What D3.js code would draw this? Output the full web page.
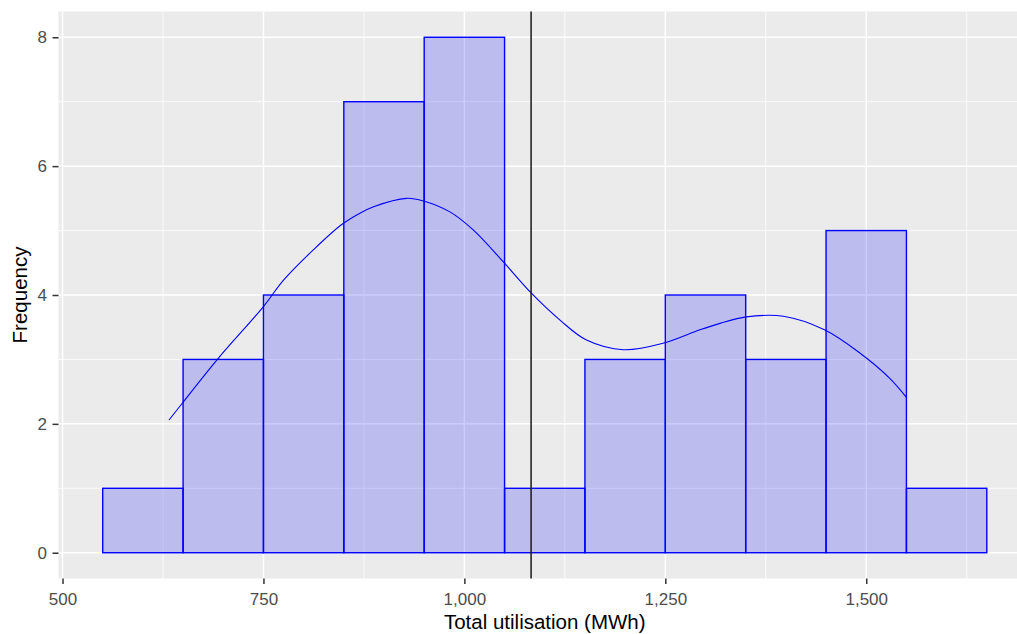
<!DOCTYPE html>
<html>
<head>
<meta charset="utf-8">
<script src="https://cdn.jsdelivr.net/npm/d3@7"></script>
<style>
  body { margin: 0; background: #fff; }
  svg { display: block; font-family: "Liberation Sans", Arial, sans-serif; }
</style>
</head>
<body>
<div id="chart"></div>
<script>
// histogram bins (binwidth 100)
const binStarts = [550, 650, 750, 850, 950, 1050, 1150, 1250, 1350, 1450, 1550];
const binCounts = [1, 3, 4, 7, 8, 1, 3, 4, 3, 5, 1];
const binWidth = 100;

// density curve, scaled to counts
const densX = [632.5, 649, 694, 750, 775, 812, 847, 870, 887, 928, 949, 982, 1011, 1048, 1084, 1119, 1152, 1198, 1247, 1293, 1318, 1351, 1397, 1448, 1492, 1529, 1550];
const densY = [2.06, 2.32, 3.02, 3.82, 4.23, 4.70, 5.09, 5.27, 5.37, 5.50, 5.46, 5.29, 5.01, 4.52, 4.02, 3.61, 3.30, 3.15, 3.25, 3.46, 3.56, 3.66, 3.67, 3.46, 3.10, 2.71, 2.41];

const meanValue = 1083;

const xMajor = [500, 750, 1000, 1250, 1500];
const xMinor = [625, 875, 1125, 1375, 1625];
const yMajor = [0, 2, 4, 6, 8];
const yMinor = [1, 3, 5, 7];

const W = 1017, H = 634;
const panel = { left: 58.5, right: 1031, top: 11.5, bottom: 578.5 };

const svg = d3.select("#chart").append("svg")
  .attr("width", W).attr("height", H);

const x = d3.scaleLinear().domain([495, 1705]).range([panel.left, panel.right]);
const y = d3.scaleLinear().domain([-0.4, 8.4]).range([panel.bottom, panel.top]);

// panel background
svg.append("rect")
  .attr("x", panel.left).attr("y", panel.top)
  .attr("width", panel.right - panel.left).attr("height", panel.bottom - panel.top)
  .attr("fill", "#EBEBEB");

const grid = svg.append("g");
grid.selectAll(".xmin").data(xMinor).join("line")
  .attr("x1", d => x(d)).attr("x2", d => x(d))
  .attr("y1", panel.top).attr("y2", panel.bottom)
  .attr("stroke", "#fff").attr("stroke-width", 0.8);
grid.selectAll(".ymin").data(yMinor).join("line")
  .attr("y1", d => y(d)).attr("y2", d => y(d))
  .attr("x1", panel.left).attr("x2", panel.right)
  .attr("stroke", "#fff").attr("stroke-width", 0.8);
grid.selectAll(".xmaj").data(xMajor).join("line")
  .attr("x1", d => x(d)).attr("x2", d => x(d))
  .attr("y1", panel.top).attr("y2", panel.bottom)
  .attr("stroke", "#fff").attr("stroke-width", 1.5);
grid.selectAll(".ymaj").data(yMajor).join("line")
  .attr("y1", d => y(d)).attr("y2", d => y(d))
  .attr("x1", panel.left).attr("x2", panel.right)
  .attr("stroke", "#fff").attr("stroke-width", 1.5);

// bars
svg.append("g").selectAll("rect")
  .data(binStarts.map((s, i) => ({ s, c: binCounts[i] })))
  .join("rect")
  .attr("x", d => x(d.s))
  .attr("width", d => x(d.s + binWidth) - x(d.s))
  .attr("y", d => y(d.c))
  .attr("height", d => y(0) - y(d.c))
  .attr("fill", "rgba(0,0,255,0.2)")
  .attr("stroke", "#0000FF")
  .attr("stroke-width", 1.4);

// density line
const line = d3.line()
  .x(d => x(d[0])).y(d => y(d[1]))
  .curve(d3.curveCatmullRom.alpha(0.5));
svg.append("path")
  .datum(densX.map((v, i) => [v, densY[i]]))
  .attr("d", line)
  .attr("fill", "none")
  .attr("stroke", "#0000FF")
  .attr("stroke-width", 1.1);

// mean line
svg.append("line")
  .attr("x1", x(meanValue)).attr("x2", x(meanValue))
  .attr("y1", panel.top).attr("y2", panel.bottom)
  .attr("stroke", "#1a1a1a").attr("stroke-width", 1.5);

// axes
const xAxis = d3.axisBottom(x).tickValues(xMajor)
  .tickSize(5.5).tickPadding(9)
  .tickFormat(d3.format(","));
svg.append("g")
  .attr("transform", `translate(0,${panel.bottom})`)
  .call(xAxis)
  .call(g => g.select(".domain").remove())
  .call(g => g.selectAll(".tick line").attr("stroke", "#333").attr("stroke-width", 1.5))
  .call(g => g.selectAll(".tick text").attr("fill", "#4D4D4D").attr("font-size", 17));

const yAxis = d3.axisLeft(y).tickValues(yMajor)
  .tickSize(6).tickPadding(5.5);
svg.append("g")
  .attr("transform", `translate(${panel.left},0)`)
  .call(yAxis)
  .call(g => g.select(".domain").remove())
  .call(g => g.selectAll(".tick line").attr("stroke", "#333").attr("stroke-width", 1.5))
  .call(g => g.selectAll(".tick text").attr("fill", "#4D4D4D").attr("font-size", 17));

svg.selectAll(".tick text").attr("font-family", "Liberation Sans, Arial, sans-serif");

// titles
svg.append("text")
  .attr("x", (panel.left + panel.right) / 2)
  .attr("y", 629)
  .attr("text-anchor", "middle")
  .attr("font-size", 20.5)
  .attr("fill", "#000")
  .text("Total utilisation (MWh)");

svg.append("text")
  .attr("transform", `translate(26.5,${(panel.top + panel.bottom) / 2}) rotate(-90)`)
  .attr("text-anchor", "middle")
  .attr("font-size", 20.5)
  .attr("fill", "#000")
  .text("Frequency");
</script>
</body>
</html>
